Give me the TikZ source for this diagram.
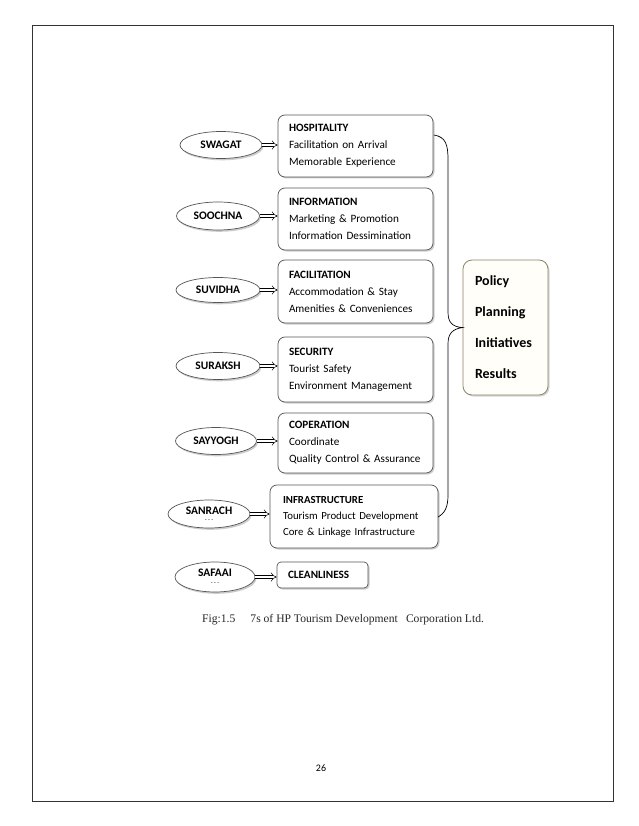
\documentclass[tikz,border=0pt]{standalone}
\usepackage{fontspec}
\setmainfont{Carlito}
\newfontfamily\capfont{Liberation Serif}
\usetikzlibrary{shapes.geometric,shadows,arrows.meta}
\definecolor{bordergray}{HTML}{555555}
\definecolor{shadowgray}{HTML}{9A9A9A}
\definecolor{policyborder}{HTML}{8A8468}
\definecolor{policyfill}{HTML}{FFFEF8}
\tikzset{
  sev/.style={ellipse, draw=bordergray, line width=0.7pt, fill=white,
    drop shadow={shadow xshift=1.3pt, shadow yshift=-1.8pt, fill=shadowgray},
    minimum width=82pt, minimum height=27pt, inner sep=0pt,
    font=\fontsize{11.5}{12}\selectfont\bfseries, align=center},
  info/.style={rectangle, rounded corners=7pt, draw=bordergray, line width=0.7pt, fill=white,
    drop shadow={shadow xshift=1.5pt, shadow yshift=-1.5pt, fill=shadowgray},
    minimum width=155pt, minimum height=62pt, inner xsep=11pt,
    text width=133pt, align=left, font=\fontsize{11.2}{17}\selectfont},
  policybox/.style={rectangle, rounded corners=9pt, draw=policyborder, line width=0.8pt, fill=policyfill,
    drop shadow={shadow xshift=1.5pt, shadow yshift=-1.5pt, fill=shadowgray!80},
    minimum width=85pt, minimum height=135pt, inner xsep=12pt,
    text width=61pt, align=left, font=\fontsize{14}{31}\selectfont\bfseries},
  dblarrow/.style={double, double distance=2.6pt, line width=0.5pt, -{Implies}},
  bracepath/.style={line width=0.7pt, black},
  pageframe/.style={draw=black!80, line width=0.8pt}
}
\begin{document}
\begin{tikzpicture}[x=1pt,y=-1pt]
\useasboundingbox (0,0) rectangle (638,826);
\fill[white] (0,0) rectangle (638,826);
\draw[pageframe] (32,25) rectangle (613,801);

% ellipses
\node[sev] (e1) at (221,145) {SWAGAT};
\node[sev, minimum width=83pt, minimum height=28pt] (e2) at (218,216) {SOOCHNA};
\node[sev, minimum width=84pt, minimum height=25pt] (e3) at (218,290) {SUVIDHA};
\node[sev, minimum width=84pt, minimum height=27pt] (e4) at (218,366) {SURAKSH};
\node[sev, minimum width=81pt, minimum height=27pt] (e5) at (216,441) {SAYYOGH};
\node[sev, minimum width=82pt, minimum height=28pt] (e6) at (209,514) {SANRACH\\[-5pt]{\fontsize{6}{6}\selectfont\mdseries - - -}};
\node[sev, minimum width=80pt, minimum height=30pt] (e7) at (215,577) {SAFAAI\\[-4pt]{\fontsize{6}{6}\selectfont\mdseries - - -}};

% boxes
\node[info] (b1) at (355.5,146) {\textbf{HOSPITALITY}\\Facilitation on Arrival\\Memorable Experience};
\node[info] (b2) at (355.5,219) {\textbf{INFORMATION}\\Marketing \& Promotion\\Information Dessimination};
\node[info, minimum height=63pt] (b3) at (355.5,291.5) {\textbf{FACILITATION}\\Accommodation \& Stay\\Amenities \& Conveniences};
\node[info, minimum height=65pt] (b4) at (355.5,369.5) {\textbf{SECURITY}\\Tourist Safety\\Environment Management};
\node[info, minimum height=60pt] (b5) at (355.5,443) {\textbf{COPERATION}\\Coordinate\\Quality Control \& Assurance};
\node[info, minimum width=168pt, minimum height=63pt, inner xsep=13pt, text width=142pt,
  font=\fontsize{10.8}{16}\selectfont] (b6) at (354,516.5) {\textbf{INFRASTRUCTURE}\\Tourism Product Development\\Core \& Linkage Infrastructure};
\node[info, minimum width=91pt, minimum height=26pt, text width=69pt, rounded corners=4pt] (b7) at (322.5,575) {\textbf{CLEANLINESS}};

% arrows
\foreach \i in {1,...,7} {
  \draw[dblarrow] (e\i.east) -- (e\i.east -| b\i.west);
}

% policy box
\node[policybox] (pol) at (505.5,327.5) {Policy\\Planning\\Initiatives\\Results};

% brace
\coordinate (btop) at (434,135);
\coordinate (bbot) at (438,517);
\draw[bracepath] (btop) .. controls (446,137) and (448,145) .. (448,160)
  -- (448,312) .. controls (448,322) and (452,327) .. (pol.west)
  .. controls (452,329) and (448,334) .. (448,344)
  -- (448,495) .. controls (448,507) and (445,513) .. (bbot);

% caption and page number
\node[font=\capfont\fontsize{11.6}{12}\selectfont, anchor=west, inner sep=0pt, text=black!85] (cap) at (202,620) {Fig:1.5\hspace{1.3em}7s of HP Tourism Development\hspace{0.7em}Corporation Ltd.};
\node[font=\fontsize{10}{12}\selectfont, inner sep=0pt] (pg) at (321,768) {26};
\end{tikzpicture}
\end{document}
